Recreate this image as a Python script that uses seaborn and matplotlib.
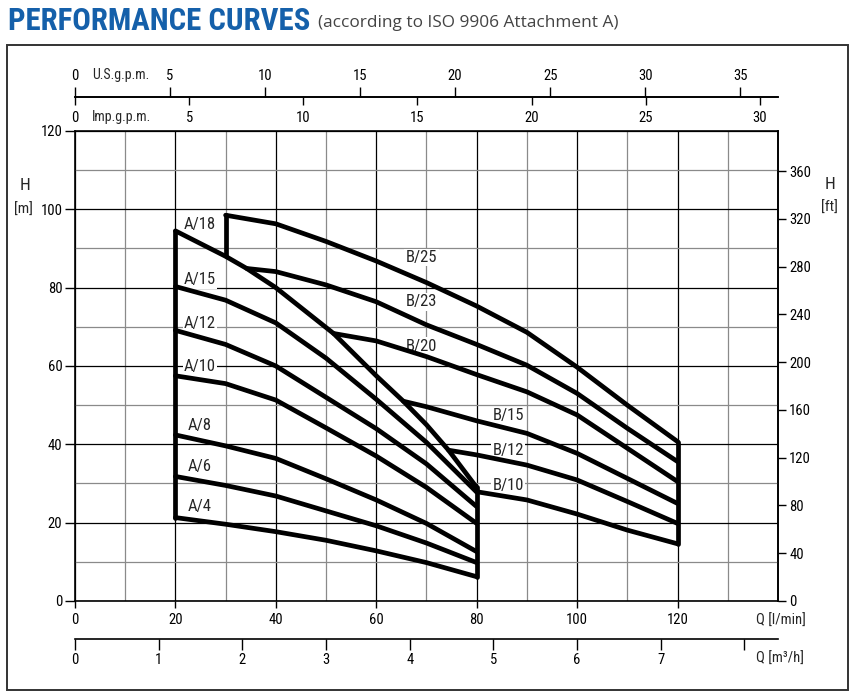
import numpy as np
import pandas as pd
import matplotlib
matplotlib.use('Agg')
import matplotlib.pyplot as plt
import seaborn as sns
from matplotlib.patches import Rectangle

# Flow Q in l/min, head H in m
q_a = [20, 30, 40, 50, 60, 70, 80]
a4 = [21.3, 19.6, 17.7, 15.5, 12.8, 9.8, 6.2]
a6 = [31.8, 29.5, 26.8, 23.0, 19.2, 14.8, 9.8]
a8 = [42.4, 39.6, 36.4, 31.2, 25.8, 19.8, 12.6]
a10 = [57.5, 55.5, 51.3, 44.2, 37.0, 29.0, 19.8]
a12 = [69.1, 65.5, 60.0, 52.0, 44.0, 35.0, 24.1]
a15 = [80.3, 76.8, 71.0, 62.0, 51.5, 40.5, 27.8]
q_a18 = [20, 30, 34.2, 40, 51.5, 60, 65.4, 70, 74.4, 80]
a18 = [94.5, 88.0, 84.9, 80.0, 68.3, 57.5, 51.0, 45.0, 38.5, 29.0]

q_b25 = [30, 40, 50, 60, 70, 80, 90, 100, 110, 120]
b25 = [98.5, 96.3, 91.8, 86.8, 81.3, 75.3, 68.6, 59.7, 50.0, 40.7]
q_b23 = [34.2, 40, 50, 60, 70, 80, 90, 100, 110, 120]
b23 = [84.9, 84.1, 80.7, 76.4, 70.5, 65.5, 60.2, 53.0, 44.1, 35.6]
q_b20 = [51.5, 60, 70, 80, 90, 100, 110, 120]
b20 = [68.3, 66.4, 62.4, 57.8, 53.4, 47.5, 39.0, 30.5]
q_b15 = [65.4, 70, 80, 90, 100, 110, 120]
b15 = [51.0, 49.6, 46.0, 42.8, 37.7, 31.3, 24.9]
q_b12 = [74.4, 80, 90, 100, 110, 120]
b12 = [38.5, 37.3, 34.7, 30.9, 25.4, 19.8]
q_b10 = [80, 90, 100, 110, 120]
b10 = [27.9, 25.8, 22.2, 18.1, 14.6]

curves = {
    'A/4': (q_a, a4), 'A/6': (q_a, a6), 'A/8': (q_a, a8), 'A/10': (q_a, a10),
    'A/12': (q_a, a12), 'A/15': (q_a, a15), 'A/18': (q_a18, a18),
    'B/25': (q_b25, b25), 'B/23': (q_b23, b23), 'B/20': (q_b20, b20),
    'B/15': (q_b15, b15), 'B/12': (q_b12, b12), 'B/10': (q_b10, b10),
}

US_GAL = 3.78541
IMP_GAL = 4.54609
FT = 3.28084

sns.set_theme(style='ticks')
plt.rcParams['font.family'] = ['Roboto Condensed', 'Roboto', 'DejaVu Sans']

fig = plt.figure(figsize=(8.52, 6.96), dpi=100)
ax = fig.add_axes([0.088, 0.1365, 0.8251, 0.6753])

# curves
for name, (q, h) in curves.items():
    sns.lineplot(x=q, y=h, ax=ax, color='black', linewidth=3.4,
                 sort=False, estimator=None, zorder=4)

# closing vertical lines of the working ranges
lw = 3.4
ax.plot([q_a[0], q_a[0]], [a4[0], a18[0]], color='black', lw=lw, zorder=4)
ax.plot([q_a[-1], q_a[-1]], [a4[-1], a18[-1]], color='black', lw=lw, zorder=4)
ax.plot([q_b25[-1], q_b25[-1]], [b10[-1], b25[-1]], color='black', lw=lw, zorder=4)
ax.plot([q_b25[0], q_b25[0]], [a18[1], b25[0]], color='black', lw=lw, zorder=4)

# curve labels
label_pos = {
    'A/18': (24.9, 96.1), 'A/15': (24.9, 82.0), 'A/12': (24.9, 70.9),
    'A/10': (24.9, 59.8), 'A/8': (24.9, 44.9), 'A/6': (24.9, 34.3),
    'A/4': (24.9, 24.1), 'B/25': (69.0, 87.7), 'B/23': (69.0, 76.4),
    'B/20': (69.0, 65.1), 'B/15': (86.3, 47.3), 'B/12': (86.3, 38.5),
    'B/10': (86.3, 29.6),
}
for name, (x, y) in label_pos.items():
    ax.text(x, y, name, fontsize=12, ha='center', va='center', zorder=3,
            bbox=dict(facecolor='white', edgecolor='none', pad=1.0))

ax.set_xlim(0, 140)
ax.set_ylim(0, 120)
ax.set_xticks(np.arange(0, 121, 20))
ax.set_xticks(np.arange(10, 131, 20), minor=True)
ax.set_yticks(np.arange(0, 121, 20))
ax.set_yticks(np.arange(10, 120, 20), minor=True)
ax.grid(True, which='major', color='black', lw=0.9)
ax.grid(True, which='minor', color='#8a8a8a', lw=0.9)
ax.set_axisbelow(True)
ax.tick_params(which='minor', length=0)
ax.tick_params(axis='y', which='major', direction='out', length=7, width=1,
               pad=2, labelsize=10.5, left=True, colors='black')
ax.tick_params(axis='x', which='major', direction='out', length=5, width=1,
               pad=4, labelsize=10.5, bottom=True, colors='black')
for s in ax.spines.values():
    s.set_visible(True)
    s.set_color('black')
    s.set_linewidth(1.2)

# right axis in feet
ft = ax.secondary_yaxis('right', functions=(lambda m: m * FT, lambda f: f / FT))
ft.set_yticks(np.arange(0, 361, 40))
ft.tick_params(direction='out', length=6, width=1, pad=2, labelsize=10.5, colors='black')
ft.spines['right'].set_color('black')
ft.spines['right'].set_linewidth(1.2)

# top axes: U.S. and imperial gallons per minute
us = ax.secondary_xaxis(1.072, functions=(lambda q: q / US_GAL, lambda g: g * US_GAL))
us.set_xticks(np.arange(0, 36, 5))
us.tick_params(direction='out', length=7, width=1, pad=3, labelsize=10.5, colors='black')
imp = ax.secondary_xaxis(1.072, functions=(lambda q: q / IMP_GAL, lambda g: g * IMP_GAL))
imp.set_alignment('bottom')
imp.set_xticks(np.arange(0, 31, 5))
imp.tick_params(direction='out', length=6, width=1, pad=4, labelsize=10.5, colors='black')
for sec in (us, imp):
    for s in sec.spines.values():
        s.set_color('black')
        s.set_linewidth(1.2)

# bottom axis in m3/h
m3 = ax.secondary_xaxis(-0.081, functions=(lambda q: q * 0.06, lambda m: m / 0.06))
m3.set_xticks(np.arange(0, 9), [str(i) for i in range(8)] + [''])
m3.tick_params(direction='out', length=8, width=1, pad=2, labelsize=10.5, colors='black')
for s in m3.spines.values():
    s.set_color('black')
    s.set_linewidth(1.2)

# axis texts
ax.text(9.2, 1.119, 'U.S.g.p.m.', transform=ax.get_xaxis_transform(),
        fontsize=10, ha='center', va='center')
ax.text(9.2, 1.030, 'Imp.g.p.m.', transform=ax.get_xaxis_transform(),
        fontsize=10, ha='center', va='center')
ax.text(140.5, -0.0426, 'Q [l/min]', transform=ax.get_xaxis_transform(),
        fontsize=10.5, ha='center', va='center')
ax.text(140.5, -0.123, 'Q [m³/h]', transform=ax.get_xaxis_transform(),
        fontsize=10.5, ha='center', va='center')
fig.text(0.0293, 0.7328, 'H', fontsize=12.5, ha='center', va='center')
fig.text(0.027, 0.6983, '[m]', fontsize=11, ha='center', va='center')
fig.text(0.974, 0.7342, 'H', fontsize=12.5, ha='center', va='center')
fig.text(0.973, 0.7011, '[ft]', fontsize=11, ha='center', va='center')

# heading, sized to the reference width
title = fig.text(8 / 852, 1 - 30 / 696, 'PERFORMANCE CURVES', fontsize=22,
                 fontweight='bold', color='#1560aa', ha='left', va='baseline')
sub = fig.text(318 / 852, 1 - 27 / 696, '(according to ISO 9906 Attachment A)',
               fontsize=11.5, color='#444444', ha='left', va='baseline',
               family=['Open Sans', 'DejaVu Sans'])
fig.canvas.draw()
title.set_fontsize(22 * 302 / title.get_window_extent().width)
sub.set_fontsize(11.5 * 300 / sub.get_window_extent().width)

# outer frame
fig.patches.append(Rectangle((7 / 852, 6 / 696), 841 / 852, 645 / 696,
                             transform=fig.transFigure, fill=False,
                             edgecolor='#333333', lw=1.4))

fig.savefig('out.png', dpi=100)
